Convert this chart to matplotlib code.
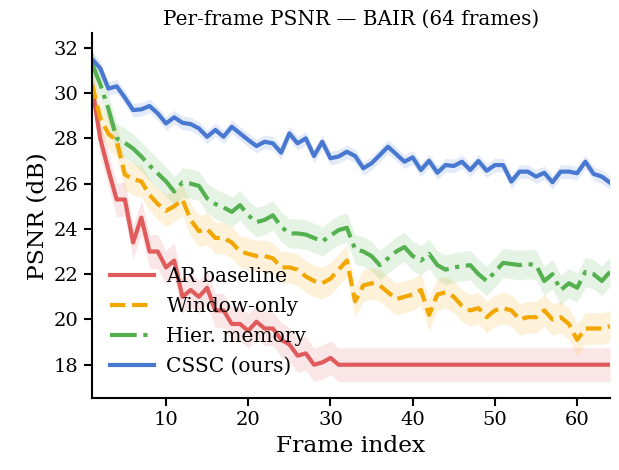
import numpy as np
import matplotlib
matplotlib.use("Agg")
import matplotlib.pyplot as plt

plt.rcParams['font.family'] = ['DejaVu Serif']

frames = np.arange(1, 65)

ar_baseline = [30.3, 28.0, 26.6, 25.3, 25.3, 23.4, 24.5, 23.0, 23.0, 22.3,
               22.6, 21.0, 21.3, 21.0, 21.4, 20.4, 20.4, 19.8, 19.8, 19.5,
               19.9, 19.6, 19.6, 19.1, 18.9, 18.4, 18.5, 18.0, 18.1, 18.3,
               18.0, 18.0, 18.0, 18.0, 18.0, 18.0, 18.0, 18.0, 18.0, 18.0,
               18.0, 18.0, 18.0, 18.0, 18.0, 18.0, 18.0, 18.0, 18.0, 18.0,
               18.0, 18.0, 18.0, 18.0, 18.0, 18.0, 18.0, 18.0, 18.0, 18.0,
               18.0, 18.0, 18.0, 18.0]
window_only = [30.4, 28.9, 28.2, 27.9, 26.4, 26.2, 26.1, 25.5, 25.1, 24.8,
               25.0, 25.3, 24.4, 23.9, 24.0, 23.6, 23.6, 23.4, 23.0, 22.9,
               22.8, 22.8, 22.7, 22.3, 22.3, 22.2, 21.9, 21.7, 21.6, 21.8,
               22.2, 22.6, 20.8, 21.5, 21.6, 21.5, 21.2, 20.9, 21.0, 21.1,
               21.3, 20.2, 21.1, 21.2, 21.0, 20.6, 20.4, 20.5, 20.1, 20.4,
               20.5, 20.4, 20.0, 20.1, 20.1, 20.4, 20.0, 20.1, 19.8, 19.1,
               19.6, 19.6, 19.6, 19.7]
hier_memory = [31.3, 30.4, 29.3, 28.0, 27.8, 27.55, 27.2, 26.8, 26.45, 26.1,
               25.65, 26.05, 26.0, 25.9, 25.35, 25.1, 24.95, 24.75, 25.05, 24.6,
               24.3, 24.4, 24.6, 24.1, 23.8, 23.8, 23.75, 23.6, 23.45, 23.7,
               23.95, 24.05, 23.1, 23.0, 22.8, 22.4, 22.7, 23.0, 23.2, 22.8,
               22.6, 22.9, 22.4, 22.2, 22.3, 22.35, 22.4, 22.0, 21.7, 22.1,
               22.5, 22.45, 22.4, 22.45, 22.4, 21.7, 22.0, 21.3, 21.6, 21.4,
               22.1, 22.0, 21.7, 22.1]
cssc = [31.5, 31.1, 30.2, 30.3, 29.8, 29.25, 29.28, 29.43, 29.1, 28.66,
        28.93, 28.69, 28.63, 28.44, 28.07, 28.37, 28.07, 28.51, 28.22, 27.93,
        27.66, 27.85, 27.78, 27.37, 28.22, 27.78, 28.0, 27.22, 27.85, 27.12,
        27.2, 27.41, 27.22, 26.68, 26.9, 27.26, 27.63, 27.3, 26.97, 27.16,
        26.6, 27.01, 26.48, 26.82, 26.78, 26.97, 26.6, 27.0, 26.57, 26.82,
        26.82, 26.09, 26.53, 26.53, 26.31, 26.48, 26.06, 26.53, 26.53, 26.46,
        26.97, 26.43, 26.31, 26.04]

# half-width of shaded band per method
spread = {'AR baseline': 0.75, 'Window-only': 0.7, 'Hier. memory': 0.65, 'CSSC (ours)': 0.3}

series = [
    ('AR baseline', ar_baseline, '#E05C5C', '-'),
    ('Window-only', window_only, '#F2A700', '--'),
    ('Hier. memory', hier_memory, '#55B14F', '-.'),
    ('CSSC (ours)', cssc, '#4878D0', '-'),
]

fig = plt.figure(figsize=(6.19, 4.70), dpi=100)
ax = fig.add_axes([0.1486, 0.1532, 0.8369, 0.7759])

for name, vals, col, ls in series:
    vals = np.array(vals)
    s = spread[name]
    ax.fill_between(frames, vals - s, vals + s, color=col, alpha=0.15, lw=0)
    ax.plot(frames, vals, color=col, ls=ls, lw=3.0, label=name)

ax.set_xlim(1, 64)
ax.set_ylim(16.53, 32.64)
ax.set_xticks([10, 20, 30, 40, 50, 60])
ax.set_yticks([18, 20, 22, 24, 26, 28, 30, 32])
ax.tick_params(labelsize=14, width=1.5, length=6)
for sp in ['top', 'right']:
    ax.spines[sp].set_visible(False)
for sp in ['left', 'bottom']:
    ax.spines[sp].set_linewidth(1.5)

ax.set_xlabel('Frame index', fontsize=16.8)
ax.set_ylabel('PSNR (dB)', fontsize=16.8)
ax.set_title('Per-frame PSNR — BAIR (64 frames)', fontsize=14.4)
ax.legend(loc='lower left', bbox_to_anchor=(0.0, 0.01), frameon=False,
          fontsize=14.5, handlelength=2.2, handletextpad=0.6, labelspacing=0.55)

fig.savefig('out.png', dpi=100)
